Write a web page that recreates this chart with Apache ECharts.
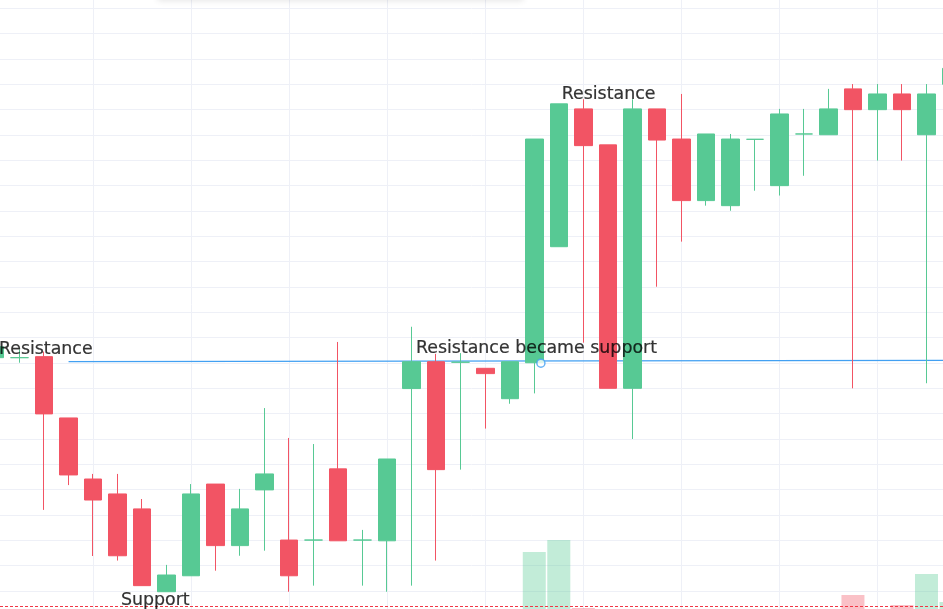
<!DOCTYPE html>
<html>
<head>
<meta charset="utf-8">
<script src="https://cdn.jsdelivr.net/npm/echarts@6/dist/echarts.min.js"></script>
<style>
html,body{margin:0;padding:0;background:#fff;}
#chart{width:943px;height:609px;}
</style>
</head>
<body>
<div id="chart"></div>
<script>
// ---- data ----
const categories = ['1','2','3','4','5','6','7','8','9','10','11','12','13','14','15','16','17','18','19','20',
  '21','22','23','24','25','26','27','28','29','30','31','32','33','34','35','36','37','38','39','40'];
const opens  = [110.21,110.21,110.25,107.83,105.42,104.83,104.24,100.97,101.60,105.22,102.79,104.99,103.01,103.01,105.82,103.01,102.98,108.99,110.05,110.03,
                109.79,108.59,110.01,114.59,120.03,118.61,109.00,120.03,118.84,116.41,116.21,118.83,117.00,119.04,119.01,120.82,120.00,120.62,119.01,121.00];
const closes = [110.64,110.21,107.99,105.58,104.59,102.39,101.21,101.63,104.83,102.79,104.24,105.62,101.60,103.01,102.98,103.01,106.21,110.05,105.79,110.03,
                109.58,110.05,118.84,120.23,118.58,109.00,120.03,118.80,116.41,119.04,118.84,118.83,119.83,119.04,120.03,120.00,120.62,120.00,120.62,121.63];
const lows   = [110.21,110.01,104.20,105.18,102.38,102.20,101.21,100.97,101.60,101.80,102.39,102.59,100.97,101.21,102.98,101.21,100.97,101.21,102.20,105.79,
                107.41,108.39,108.80,114.59,110.80,109.00,107.00,113.01,114.79,116.21,116.01,116.80,116.61,117.39,119.01,109.00,117.99,117.99,109.20,121.00];
const highs  = [110.64,110.53,110.45,107.83,105.62,105.62,104.63,102.03,105.22,105.22,105.03,108.22,107.04,106.80,110.83,103.41,106.21,111.43,110.36,110.39,
                109.79,110.05,118.84,120.23,120.41,118.61,120.41,120.03,120.62,119.04,119.04,118.83,120.03,120.03,120.82,121.01,121.01,121.01,121.01,121.63];
const volumes = [0,0,0,0,0,0,0,0,0,0,0,0,0,0,0,0,0,0,0,0,
                 0,0,10.15,12.05,1.31,0,0,0,0,0,0,0,0,0,0,3.36,0,1.78,6.68,2.26];

const priceTicks = { min: 100, max: 125, interval: 1 };
const lastPriceLine = 100.39;
const supportLine = [[3, 110.05], [39, 110.10]];
const supportPoint = [22.27, 109.99];
const labelTexts = ['Resistance', 'Support', 'Resistance became support', 'Resistance'];
const labelX     = [2.07, 6.54, 22.09, 25.03];
const labelY     = [110.55, 100.62, 110.57, 120.59];

// ---- chart ----
const UP = '#57C994', DOWN = '#F25464';
const candleData = categories.map((c, i) => [opens[i], closes[i], lows[i], highs[i]]);
const volData = volumes.map((v, i) => ({
  value: v,
  itemStyle: { color: (closes[i] >= opens[i]) ? 'rgba(87,201,148,0.36)' : 'rgba(242,84,100,0.36)' }
}));
const labelData = labelTexts.map((t, i) => ({ name: t, value: [labelX[i], labelY[i]] }));

const chart = echarts.init(document.getElementById('chart'), null, { renderer: 'canvas' });
chart.setOption({
  animation: false,
  backgroundColor: '#ffffff',
  grid: { left: -5, right: -8, top: -17, bottom: -7.3, outerBoundsMode: 'none', containLabel: false },
  xAxis: [
    {
      type: 'category', data: categories, boundaryGap: false,
      axisLine: { show: false }, axisTick: { show: false }, axisLabel: { show: false },
      splitLine: { show: true, interval: 3, lineStyle: { color: '#eef0f7', width: 1 } }
    },
    {
      type: 'value', min: 0, max: categories.length - 1, show: false,
      splitLine: { show: false }
    }
  ],
  yAxis: [
    {
      type: 'value', min: priceTicks.min, max: priceTicks.max, interval: priceTicks.interval,
      axisLine: { show: false }, axisTick: { show: false }, axisLabel: { show: false },
      splitLine: { show: true, lineStyle: { color: '#eef0f7', width: 1 } }
    },
    {
      type: 'value', min: 0, max: 100, show: false, splitLine: { show: false }
    }
  ],
  graphic: [
    { type: 'rect', z: 100, shape: { x: 157, y: -40, width: 367, height: 40, r: 4 },
      style: { fill: '#ffffff', shadowBlur: 6, shadowColor: 'rgba(0,0,0,0.10)', shadowOffsetY: 1 } }
  ],
  series: [
    {
      type: 'bar', xAxisIndex: 0, yAxisIndex: 1, data: volData, barWidth: 23, z: 1, silent: true
    },
    {
      type: 'line', xAxisIndex: 1, yAxisIndex: 0, data: supportLine, symbol: 'none', z: 2, silent: true,
      lineStyle: { color: '#42a0f2', width: 1.2 }
    },
    {
      type: 'candlestick', xAxisIndex: 0, yAxisIndex: 0, data: candleData, barWidth: 18, z: 3,
      itemStyle: { color: UP, color0: DOWN, borderColor: UP, borderColor0: DOWN, borderColorDoji: UP, borderWidth: 1 },
      markLine: {
        silent: true, symbol: ['none', 'none'], label: { show: false },
        lineStyle: { color: '#F23645', type: [3, 2], width: 1 },
        data: [{ yAxis: lastPriceLine }]
      }
    },
    {
      type: 'scatter', xAxisIndex: 1, yAxisIndex: 0, data: [supportPoint], z: 4, silent: true,
      symbol: 'circle', symbolSize: 8,
      itemStyle: { color: '#ffffff', borderColor: '#42a0f2', borderWidth: 1.5 }
    },
    {
      type: 'scatter', xAxisIndex: 1, yAxisIndex: 0, data: labelData, z: 5, silent: true,
      symbolSize: 0, itemStyle: { color: 'transparent' },
      label: {
        show: true, position: 'inside', formatter: '{b}',
        fontFamily: 'DejaVu Sans', fontSize: 17.4, color: '#000000',
        textBorderWidth: 0.2, textBorderColor: '#000000', textShadowBlur: 0
      }
    }
  ]
});
</script>
</body>
</html>
